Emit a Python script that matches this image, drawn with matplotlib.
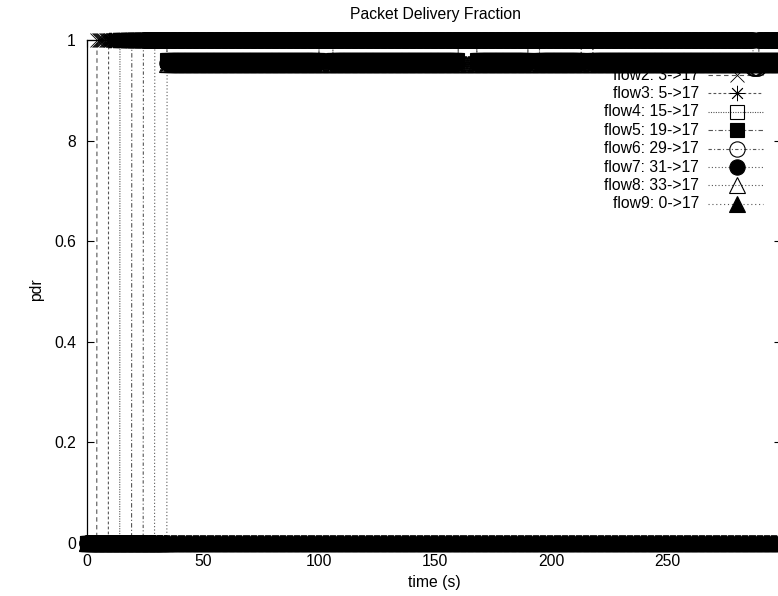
import numpy as np
import matplotlib
matplotlib.use("Agg")
import matplotlib.pyplot as plt
from matplotlib.transforms import Affine2D

plt.rcParams['font.family'] = ['Liberation Sans', 'DejaVu Sans']

# ---------------- data ----------------
flow_labels = ["flow2: 3->17", "flow3: 5->17", "flow4: 15->17", "flow5: 19->17",
               "flow6: 29->17", "flow7: 31->17", "flow8: 33->17", "flow9: 0->17"]

# step breakpoints (time in s, pdr value from that time on)
flow2_t = [0, 4.3]
flow2_v = [0.0, 1.0]
flow3_t = [0, 9.3]
flow3_v = [0.0, 1.0]
flow4_t = [0, 14.2]
flow4_v = [0.0, 1.0]
flow5_t = [0, 19.3, 34.5, 100, 106, 160, 168, 190, 195, 213, 218]
flow5_v = [0.0, 1.0, 0.96, 1.0, 0.96, 1.0, 0.96, 1.0, 0.96, 1.0, 0.96]
flow6_t = [0, 24.3, 287, 289.5]
flow6_v = [0.0, 1.0, 0.945, 1.0]
flow7_t = [0, 29.2, 34.5, 100, 106, 160, 168, 190, 195, 213, 218]
flow7_v = [0.0, 1.0, 0.955, 1.0, 0.955, 1.0, 0.955, 1.0, 0.955, 1.0, 0.955]
flow8_t = [0, 34.5]
flow8_v = [0.0, 0.952]
flow9_t = [0]
flow9_v = [0.0]

sim_end = 300.0
sample_step = 0.1

x_ticks = [0, 50, 100, 150, 200, 250]
x_ticklabels = ["0", "50", "100", "150", "200", "250"]
y_ticks = [0, 0.2, 0.4, 0.6, 0.8, 1.0]
y_ticklabels = ["0", "0.2", "0.4", "0.6", "8", "1"]

steps = [(flow2_t, flow2_v), (flow3_t, flow3_v), (flow4_t, flow4_v), (flow5_t, flow5_v),
         (flow6_t, flow6_v), (flow7_t, flow7_v), (flow8_t, flow8_v), (flow9_t, flow9_v)]

# ---------------- styles ----------------
styles = [
    dict(marker='x', mfc='none', ls=(0, (4, 3)), ms=10.5, mew=0.6),
    dict(marker=(8, 2, 0), mfc='none', ls=(0, (2.5, 2)), ms=11, mew=0.6),
    dict(marker='s', mfc='none', ls=(0, (1, 1.2)), ms=10, mew=0.8),
    dict(marker='s', mfc='black', ls=(0, (4, 2, 1, 2)), ms=10, mew=0.8),
    dict(marker='o', mfc='none', ls=(0, (3, 2, 1, 2)), ms=11, mew=0.8),
    dict(marker='o', mfc='black', ls=(0, (1, 2)), ms=11, mew=0.8),
    dict(marker='^', mfc='none', ls=(0, (1, 2)), ms=11, mew=0.8),
    dict(marker='^', mfc='black', ls=(0, (1, 2.5)), ms=11, mew=0.8),
]

W, H = 778, 596
fig = plt.figure(figsize=(W / 100, H / 100), dpi=100)
ax_left, ax_right, ax_top, ax_bottom = 87, 781, 40, 543
ax = fig.add_axes([ax_left / W, 1 - ax_bottom / H, (ax_right - ax_left) / W, (ax_bottom - ax_top) / H])

t = np.arange(0, sim_end + sample_step / 2, sample_step)
for (bt, bv), st in zip(steps, styles):
    idx = np.searchsorted(np.asarray(bt, dtype=float), t + 1e-9, side='right') - 1
    pdr = np.asarray(bv)[idx]
    # connecting line (grey, thin) and markers (black)
    ax.plot(t, pdr, color='#555555', lw=0.8, ls=st['ls'], clip_on=False, zorder=2)
    ax.plot(t, pdr, color='black', ls='none', marker=st['marker'],
            mfc=st['mfc'], mec='black', ms=st['ms'], mew=st['mew'],
            markevery=5, clip_on=False, zorder=3)

ax.set_xlim(0, 299)
ax.set_ylim(0, 1)
ax.set_xticks(x_ticks)
ax.set_xticklabels(x_ticklabels)
ax.set_yticks(y_ticks)
ax.set_yticklabels(y_ticklabels)
ax.tick_params(direction='in', length=5, width=0.8, top=True, right=True,
               labelsize=11.3, pad=8, colors='black')
for sp in ax.spines.values():
    sp.set_linewidth(0.9)

# pixel transform for manual gnuplot-style key
pix = Affine2D().scale(1 / W, -1 / H).translate(0, 1) + fig.transFigure

key_y0, key_dy = 75, 18.4
for i, (lab, st) in enumerate(zip(flow_labels, styles)):
    y = key_y0 + i * key_dy
    ax.text(699, y, lab, transform=pix, ha='right', va='center', fontsize=11.3, zorder=1)
    ax.plot([708, 763], [y, y], transform=pix, color='#555555', lw=0.8, ls=st['ls'],
            clip_on=False, zorder=1)
    ax.plot([737], [y], transform=pix, color='black', ls='none', marker=st['marker'],
            mfc=st['mfc'], mec='black', ms=st['ms'], mew=st['mew'], clip_on=False, zorder=1)

fig.text(435 / W, 1 - 15 / H, "Packet Delivery Fraction", ha='center', va='center', fontsize=11.3)
fig.text(434 / W, 1 - 582 / H, "time (s)", ha='center', va='center', fontsize=11.3)
fig.text(37 / W, 1 - 290 / H, "pdr", ha='center', va='center', rotation=90, fontsize=11.3)

fig.savefig("out.png", dpi=100)
